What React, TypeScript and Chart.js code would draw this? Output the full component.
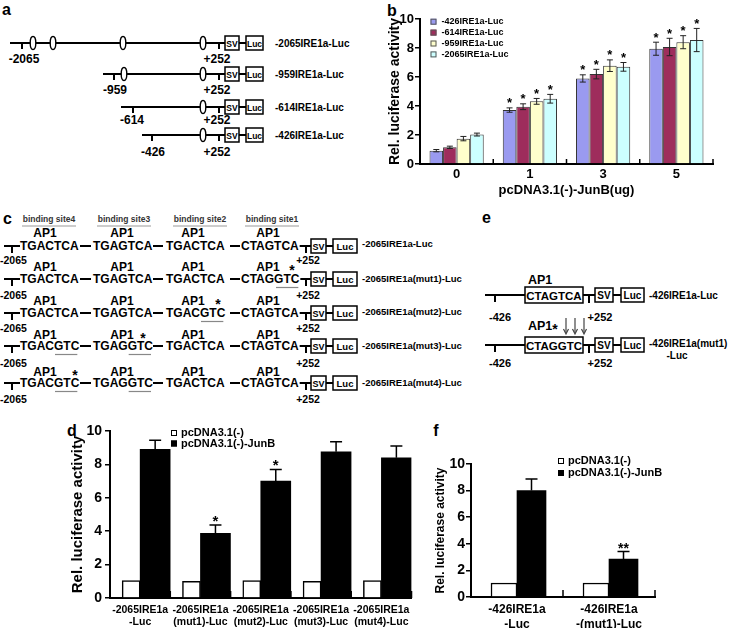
import React, { useEffect, useRef } from 'react';
import { Chart, registerables } from 'chart.js';

Chart.register(...registerables);

const FONT = '"Liberation Sans", Arial, Helvetica, sans-serif';

// ---------------- Panel b data ----------------
const bCategories = ['0', '1', '3', '5'];
const bSeriesNames = ['-426IRE1a-Luc', '-614IRE1a-Luc', '-959IRE1a-Luc', '-2065IRE1a-Luc'];
const b426 = [0.92, 3.72, 5.9, 7.95];
const b614 = [1.15, 3.95, 6.2, 8.07];
const b959 = [1.75, 4.32, 6.78, 8.4];
const b2065 = [2.03, 4.5, 6.7, 8.55];
const b426Err = [0.08, 0.15, 0.25, 0.45];
const b614Err = [0.08, 0.2, 0.33, 0.6];
const b959Err = [0.15, 0.2, 0.4, 0.45];
const b2065Err = [0.1, 0.3, 0.3, 0.8];
const bStars = ['', '*', '*', '*'];
const bColors = ['#9a9af0', '#9e2d5c', '#ffffcc', '#ccffff'];
const bXTitle = 'pcDNA3.1(-)-JunB(ug)';
const yTitle = 'Rel. luciferase activity';

// ---------------- Panel d data ----------------
const dCategories = [
  ['-2065IRE1a', '-Luc'],
  ['-2065IRE1a', '(mut1)-Luc'],
  ['-2065IRE1a', '(mut2)-Luc'],
  ['-2065IRE1a', '(mut3)-Luc'],
  ['-2065IRE1a', '(mut4)-Luc'],
];
const dControl = [1.05, 1.0, 1.05, 1.0, 1.05];
const dJunB = [8.9, 3.87, 7.0, 8.76, 8.4];
const dJunBErr = [0.55, 0.5, 0.7, 0.6, 0.7];
const dStars = ['', '*', '*', '', ''];

// ---------------- Panel f data ----------------
const fCategories = [
  ['-426IRE1a', '-Luc'],
  ['-426IRE1a', '-(mut1)-Luc'],
];
const fControl = [1.05, 1.05];
const fJunB = [8.0, 2.85];
const fJunBErr = [0.87, 0.57];
const fStars = ['', '**'];

const seriesControl = 'pcDNA3.1(-)';
const seriesJunB = 'pcDNA3.1(-)-JunB';

// ---------------- Diagram texts ----------------
const aConstructs = ['-2065IRE1a-Luc', '-959IRE1a-Luc', '-614IRE1a-Luc', '-426IRE1a-Luc'];
const aStartLabels = ['-2065', '-959', '-614', '-426'];
const cSiteNames = ['binding site4', 'binding site3', 'binding site2', 'binding site1'];
const cConstructs = [
  '-2065IRE1a-Luc',
  '-2065IRE1a(mut1)-Luc',
  '-2065IRE1a(mut2)-Luc',
  '-2065IRE1a(mut3)-Luc',
  '-2065IRE1a(mut4)-Luc',
];
const cSequences = [
  ['TGACTCA', 'TGAGTCA', 'TGACTCA', 'CTAGTCA'],
  ['TGACTCA', 'TGAGTCA', 'TGACTCA', 'CTAGGTC'],
  ['TGACTCA', 'TGAGTCA', 'TGACGTC', 'CTAGTCA'],
  ['TGACGTC', 'TGAGGTC', 'TGACTCA', 'CTAGTCA'],
  ['TGACGTC', 'TGAGGTC', 'TGACTCA', 'CTAGTCA'],
];
const cMutatedSites = [[], [3], [2], [0, 1], [0, 1]];
const cStarSite = [-1, 3, 2, 1, 0];
const eSites = ['CTAGTCA', 'CTAGGTC'];
const eConstructs = [['-426IRE1a-Luc'], ['-426IRE1a(mut1)', '-Luc']];

// ---------------- helpers ----------------
const bold = (size: number) => ({ family: FONT, size, weight: 'bold' as const });

const CW: Record<string, number> = {
  '-': 333, '+': 584, ' ': 278, '(': 333, ')': 333, '*': 389,
  A: 722, C: 722, G: 778, T: 611, E: 667, I: 278, R: 722, L: 611, S: 667, V: 667, P: 667,
  a: 556, c: 556, u: 611, m: 889, t: 333,
};
function tw(s: string, size: number) {
  let t = 0;
  for (const ch of s) t += CW[ch] ?? 556;
  return (t * size) / 1000;
}

// ---------------- Chart.js plugins ----------------
const errorBarsPlugin: any = {
  id: 'errorBars',
  afterDatasetsDraw(chart: any, _a: any, o: any) {
    const { ctx } = chart;
    const ys = chart.scales.y;
    ctx.save();
    ctx.strokeStyle = o.color || '#000';
    ctx.lineWidth = o.width || 1;
    chart.data.datasets.forEach((ds: any, i: number) => {
      if (!ds.errors) return;
      const meta = chart.getDatasetMeta(i);
      meta.data.forEach((bar: any, j: number) => {
        const v = ds.data[j];
        const e = ds.errors[j];
        const top = ys.getPixelForValue(v + e);
        const bot = o.mode === 'both' ? ys.getPixelForValue(v - e) : ys.getPixelForValue(v);
        ctx.beginPath();
        ctx.moveTo(bar.x, bot);
        ctx.lineTo(bar.x, top);
        ctx.moveTo(bar.x - o.cap, top);
        ctx.lineTo(bar.x + o.cap, top);
        if (o.mode === 'both') {
          ctx.moveTo(bar.x - o.cap, bot);
          ctx.lineTo(bar.x + o.cap, bot);
        }
        ctx.stroke();
      });
    });
    ctx.restore();
  },
};

const starsPlugin: any = {
  id: 'stars',
  afterDatasetsDraw(chart: any, _a: any, o: any) {
    const { ctx } = chart;
    const ys = chart.scales.y;
    ctx.save();
    ctx.fillStyle = '#000';
    ctx.font = `bold ${o.size}px ${FONT}`;
    ctx.textAlign = 'center';
    ctx.textBaseline = 'alphabetic';
    chart.data.datasets.forEach((ds: any, i: number) => {
      if (!ds.stars) return;
      const meta = chart.getDatasetMeta(i);
      meta.data.forEach((bar: any, j: number) => {
        const s = ds.stars[j];
        if (!s) return;
        const v = ds.data[j] + (ds.errors ? ds.errors[j] : 0);
        const cy = ys.getPixelForValue(v) - o.gap;
        ctx.fillText(s, bar.x, cy + 0.57 * o.size);
      });
    });
    ctx.restore();
  },
};

const boxLegendPlugin: any = {
  id: 'boxLegend',
  afterDraw(chart: any, _a: any, o: any) {
    const { ctx, chartArea } = chart;
    ctx.save();
    ctx.font = `bold ${o.size}px ${FONT}`;
    ctx.textBaseline = 'middle';
    ctx.textAlign = 'left';
    chart.data.datasets.forEach((ds: any, i: number) => {
      const y = chartArea.top + o.dy + i * o.spacing;
      const x = chartArea.left + o.dx;
      ctx.fillStyle = ds.backgroundColor;
      ctx.fillRect(x, y - o.box / 2, o.box, o.box);
      ctx.strokeStyle = o.boxBorder;
      ctx.lineWidth = 1;
      ctx.strokeRect(x + 0.5, y - o.box / 2 + 0.5, o.box - 1, o.box - 1);
      ctx.fillStyle = '#000';
      ctx.fillText(ds.label, x + o.box + o.gap, y);
    });
    ctx.restore();
  },
};

const innerXTicksPlugin: any = {
  id: 'innerXTicks',
  afterDraw(chart: any, _a: any, o: any) {
    const xs = chart.scales.x;
    const { ctx, chartArea } = chart;
    ctx.save();
    ctx.strokeStyle = '#000';
    ctx.lineWidth = o.width;
    const n = chart.data.labels.length;
    for (let i = 0; i <= n; i++) {
      const x = xs.getPixelForValue(i - 0.5);
      ctx.beginPath();
      ctx.moveTo(x, chartArea.bottom);
      ctx.lineTo(x, chartArea.bottom - o.length);
      ctx.stroke();
    }
    ctx.restore();
  },
};

const plugins = [errorBarsPlugin, starsPlugin, boxLegendPlugin, innerXTicksPlugin];

function yScale(tickSize: number, tickPad: number, titleSize: number, titlePad: number, width: number): any {
  return {
    min: 0,
    max: 10,
    ticks: { stepSize: 2, font: bold(tickSize), color: '#000', padding: tickPad },
    grid: { drawOnChartArea: false, drawTicks: true, tickLength: 5, color: '#000', lineWidth: 1.5 },
    border: { display: true, color: '#000', width: 2 },
    title: { display: true, text: yTitle, font: bold(titleSize), color: '#000', padding: { top: titlePad, bottom: 0 } },
    afterFit: (s: any) => {
      s.width = width;
    },
  };
}

function xScale(tickSize: number, tickPad: number, height: number, title?: any): any {
  return {
    grid: { display: false, drawTicks: false },
    border: { display: true, color: '#000', width: 2 },
    ticks: { font: bold(tickSize), color: '#000', padding: tickPad, autoSkip: false, maxRotation: 0 },
    title: title || { display: false },
    afterFit: (s: any) => {
      s.height = height;
    },
  };
}

function makeB(): any {
  const values = [b426, b614, b959, b2065];
  const errors = [b426Err, b614Err, b959Err, b2065Err];
  return {
    type: 'bar',
    data: {
      labels: bCategories,
      datasets: bSeriesNames.map((name, i) => ({
        label: name,
        data: values[i],
        errors: errors[i],
        stars: bStars,
        backgroundColor: bColors[i],
        borderColor: '#333',
        borderWidth: 1,
        categoryPercentage: 0.74,
        barPercentage: 1,
      })),
    },
    options: {
      animation: false,
      responsive: false,
      devicePixelRatio: 1,
      layout: { padding: { top: 19, right: 18, left: 0, bottom: 0 } },
      plugins: {
        legend: { display: false },
        tooltip: { enabled: false },
        errorBars: { mode: 'both', cap: 3, width: 1, color: '#222' },
        stars: { size: 13, gap: 8 },
        boxLegend: { dx: 10.5, dy: 2.7, spacing: 10.9, box: 6, size: 9, gap: 5, boxBorder: '#555' },
        innerXTicks: { length: 5, width: 1.5 },
      },
      scales: {
        x: xScale(13, 3, 41, {
          display: true,
          text: bXTitle,
          font: bold(13),
          color: '#000',
          padding: { top: 0, bottom: 7 },
        }),
        y: yScale(13, 1, 14, 4, 37),
      },
    },
    plugins,
  };
}

function makeD(): any {
  return {
    type: 'bar',
    data: {
      labels: dCategories,
      datasets: [
        { label: seriesControl, data: dControl, backgroundColor: '#fff', borderColor: '#000', borderWidth: 1.5, barThickness: 18 },
        { label: seriesJunB, data: dJunB, errors: dJunBErr, stars: dStars, backgroundColor: '#000', borderColor: '#000', borderWidth: 0, barThickness: 30 },
      ],
    },
    options: {
      animation: false,
      responsive: false,
      devicePixelRatio: 1,
      layout: { padding: { top: 16, right: 0, left: 0, bottom: 0 } },
      plugins: {
        legend: { display: false },
        tooltip: { enabled: false },
        errorBars: { mode: 'up', cap: 6, width: 1.5, color: '#000' },
        stars: { size: 15, gap: 7.5 },
        boxLegend: { dx: 61, dy: 2, spacing: 10.5, box: 6, size: 11, gap: 4, boxBorder: '#000' },
        innerXTicks: { length: 7, width: 1.5 },
      },
      scales: {
        x: xScale(10.5, 5.6, 30),
        y: yScale(14, 3, 15, 9, 50),
      },
    },
    plugins,
  };
}

function makeF(): any {
  return {
    type: 'bar',
    data: {
      labels: fCategories,
      datasets: [
        { label: seriesControl, data: fControl, backgroundColor: '#fff', borderColor: '#000', borderWidth: 1.5, barThickness: 26 },
        { label: seriesJunB, data: fJunB, errors: fJunBErr, stars: fStars, backgroundColor: '#000', borderColor: '#000', borderWidth: 0, barThickness: 29 },
      ],
    },
    options: {
      animation: false,
      responsive: false,
      devicePixelRatio: 1,
      layout: { padding: { top: 24, right: 65, left: 0, bottom: 0 } },
      plugins: {
        legend: { display: false },
        tooltip: { enabled: false },
        errorBars: { mode: 'up', cap: 6, width: 1.5, color: '#000' },
        stars: { size: 14, gap: 6 },
        boxLegend: { dx: 87, dy: -3, spacing: 12, box: 6, size: 11, gap: 4, boxBorder: '#000' },
        innerXTicks: { length: 7, width: 1.5 },
      },
      scales: {
        x: xScale(12, 5.8, 31),
        y: yScale(14, 1, 12, 3, 41),
      },
    },
    plugins,
  };
}

function ChartBox({ left, top, width, height, make }: any) {
  const ref = useRef<HTMLCanvasElement>(null);
  useEffect(() => {
    const chart = new Chart(ref.current as HTMLCanvasElement, make());
    return () => chart.destroy();
  }, []);
  return (
    <div style={{ position: 'absolute', left, top, width, height }}>
      <canvas ref={ref} width={width} height={height} style={{ display: 'block', width, height }} />
    </div>
  );
}

// ---------------- SVG diagram helpers ----------------
function Txt({ x, y, size, anchor = 'start', fill = '#000', children }: any) {
  return (
    <text x={x} y={y} fontSize={size} textAnchor={anchor} dominantBaseline="central" fontFamily={FONT} fontWeight="bold" fill={fill}>
      {children}
    </text>
  );
}

function Ln({ x1, y1, x2, y2, w = 2, c = '#000' }: any) {
  return <line x1={x1} y1={y1} x2={x2} y2={y2} stroke={c} strokeWidth={w} />;
}

function Box({ x, y, w, h, text, size }: any) {
  return (
    <g>
      <rect x={x} y={y - h / 2} width={w} height={h} fill="#fff" stroke="#000" strokeWidth={1.5} />
      <Txt x={x + w / 2} y={y + 0.5} size={size} anchor="middle">
        {text}
      </Txt>
    </g>
  );
}

function PanelA() {
  const rows = [
    { y: 43, x0: 10, tick: 22, ell: [33, 53, 123, 203], ly: 59, lx: 24 },
    { y: 74, x0: 103, tick: 114, ell: [124, 203], ly: 90, lx: 115 },
    { y: 107, x0: 121, tick: 133, ell: [203], ly: 120, lx: 132 },
    { y: 135, x0: 142, tick: 152, ell: [203], ly: 152, lx: 153 },
  ];
  return (
    <g>
      {rows.map((r, i) => (
        <g key={i}>
          <Ln x1={r.x0} y1={r.y} x2={225} y2={r.y} w={2.2} />
          <Ln x1={r.tick} y1={r.y} x2={r.tick} y2={r.y + 6} />
          <Ln x1={219} y1={r.y} x2={219} y2={r.y + 6} />
          {r.ell.map((x, k) => (
            <ellipse key={k} cx={x} cy={r.y} rx={2.8} ry={6.5} fill="#fff" stroke="#000" strokeWidth={1.4} />
          ))}
          <Box x={225} y={r.y} w={14} h={14} text="SV" size={8.5} />
          <Ln x1={239} y1={r.y} x2={246} y2={r.y} />
          <Box x={246} y={r.y} w={17} h={14} text="Luc" size={8.5} />
          <Txt x={r.lx} y={r.ly} size={12} anchor="middle">
            {aStartLabels[i]}
          </Txt>
          <Txt x={217} y={r.ly} size={12} anchor="middle">
            +252
          </Txt>
          <Txt x={275} y={r.y} size={10}>
            {aConstructs[i]}
          </Txt>
        </g>
      ))}
    </g>
  );
}

function PanelC() {
  const rowY = [246, 279, 313, 346, 383];
  const apY = [233, 267, 301, 335, 372];
  const labY = [260, 295, 328, 363, 399];
  const nameY = [243, 278, 311, 345, 382];
  const seqX = [20, 93, 166, 241];
  const apX = [45, 122, 193, 268];
  const starX = [75, 143, 218, 292];
  const headX = [49, 124, 200, 272];
  const dashes = [
    [80, 91],
    [153, 163],
    [230, 240],
  ];
  const fs = 12;
  return (
    <g>
      {cSiteNames.map((s, i) => (
        <g key={i}>
          <Txt x={headX[i]} y={219} size={8.5} anchor="middle" fill="#333">
            {s}
          </Txt>
          <Ln x1={headX[i] - 27} y1={226} x2={headX[i] + 27} y2={226} w={1} c="#999" />
        </g>
      ))}
      {cSequences.map((seqs, r) => {
        const y = rowY[r];
        const end = seqX[3] + tw(seqs[3], fs);
        return (
          <g key={r}>
            <Ln x1={4} y1={y} x2={20} y2={y} />
            <Ln x1={12} y1={y} x2={12} y2={y + 7} />
            {dashes.map((d, k) => (
              <Ln key={k} x1={d[0]} y1={y} x2={d[1]} y2={y} />
            ))}
            {seqs.map((s, k) => (
              <g key={k}>
                <Txt x={seqX[k]} y={y} size={fs}>
                  {s}
                </Txt>
                <Txt x={apX[k]} y={apY[r]} size={12} anchor="middle">
                  AP1
                </Txt>
              </g>
            ))}
            {cMutatedSites[r].map((k) => {
              const x1 = seqX[k] + tw(cSequences[r][k].slice(0, 4), fs) + 1;
              const x2 = seqX[k] + tw(cSequences[r][k], fs) - 2;
              return <Ln key={k} x1={x1} y1={y + 8.5} x2={x2} y2={y + 8.5} w={1.2} c="#888" />;
            })}
            {cStarSite[r] >= 0 && (
              <Txt x={starX[cStarSite[r]]} y={apY[r] + 3} size={14} anchor="middle">
                *
              </Txt>
            )}
            <Ln x1={end} y1={y} x2={311} y2={y} />
            <Ln x1={306} y1={y} x2={306} y2={y + 7} />
            <Box x={311} y={y} w={15} h={14} text="SV" size={9} />
            <Ln x1={326} y1={y} x2={333} y2={y} />
            <Box x={333} y={y} w={24} h={14} text="Luc" size={9.5} />
            <Txt x={0} y={labY[r]} size={10.5}>
              -2065
            </Txt>
            <Txt x={308} y={labY[r]} size={10.5} anchor="middle">
              +252
            </Txt>
            <Txt x={362} y={nameY[r]} size={9.5}>
              {cConstructs[r]}
            </Txt>
          </g>
        );
      })}
    </g>
  );
}

function PanelE() {
  const rowY = [295, 345];
  const apY = [280, 326];
  const labY = [317, 363];
  return (
    <g>
      {eSites.map((s, r) => {
        const y = rowY[r];
        return (
          <g key={r}>
            <Ln x1={485} y1={y} x2={525} y2={y} />
            <Ln x1={495} y1={y} x2={495} y2={y + 7} />
            <rect x={525} y={y - 8} width={58} height={16} fill="#fff" stroke="#000" strokeWidth={1.5} />
            <Txt x={554} y={y + 0.5} size={11.5} anchor="middle">
              {s}
            </Txt>
            <Ln x1={583} y1={y} x2={595} y2={y} />
            <Ln x1={589} y1={y} x2={589} y2={y + 8} />
            <Box x={595} y={y} w={18} h={14} text="SV" size={10} />
            <Ln x1={613} y1={y} x2={621} y2={y} />
            <Box x={621} y={y} w={23} h={14} text="Luc" size={10} />
            <Txt x={528} y={apY[r]} size={12.5}>
              AP1
            </Txt>
            <Txt x={500} y={labY[r]} size={11} anchor="middle">
              -426
            </Txt>
            <Txt x={600} y={labY[r]} size={11} anchor="middle">
              +252
            </Txt>
          </g>
        );
      })}
      <Txt x={555} y={329} size={14} anchor="middle">
        *
      </Txt>
      {[566, 575, 584].map((x, k) => (
        <g key={k}>
          <Ln x1={x} y1={318} x2={x} y2={333} w={1.2} c="#444" />
          <path d={`M ${x - 2.5} ${329} L ${x} ${334} L ${x + 2.5} ${329}`} fill="none" stroke="#444" strokeWidth={1.2} />
        </g>
      ))}
      <Txt x={649} y={295} size={10}>
        {eConstructs[0][0]}
      </Txt>
      <Txt x={649} y={343} size={10}>
        {eConstructs[1][0]}
      </Txt>
      <Txt x={677} y={355} size={10} anchor="middle">
        {eConstructs[1][1]}
      </Txt>
    </g>
  );
}

function Diagrams() {
  return (
    <svg width={731} height={628} style={{ position: 'absolute', left: 0, top: 0 }}>
      <Txt x={2} y={9} size={16}>a</Txt>
      <Txt x={392} y={10} size={16} anchor="middle">b</Txt>
      <Txt x={3} y={218} size={16}>c</Txt>
      <Txt x={482} y={217} size={16}>e</Txt>
      <Txt x={72} y={430} size={16} anchor="middle">d</Txt>
      <Txt x={436} y={430} size={16} anchor="middle">f</Txt>
      <PanelA />
      <PanelC />
      <PanelE />
    </svg>
  );
}

export default function App() {
  return (
    <div style={{ position: 'absolute', left: 0, top: 0, width: 731, height: 628, background: '#fff', overflow: 'hidden' }}>
      <Diagrams />
      <ChartBox left={383} top={0} width={348} height={205} make={makeB} />
      <ChartBox left={60} top={415} width={355} height={213} make={makeD} />
      <ChartBox left={430} top={440} width={290} height={188} make={makeF} />
    </div>
  );
}
